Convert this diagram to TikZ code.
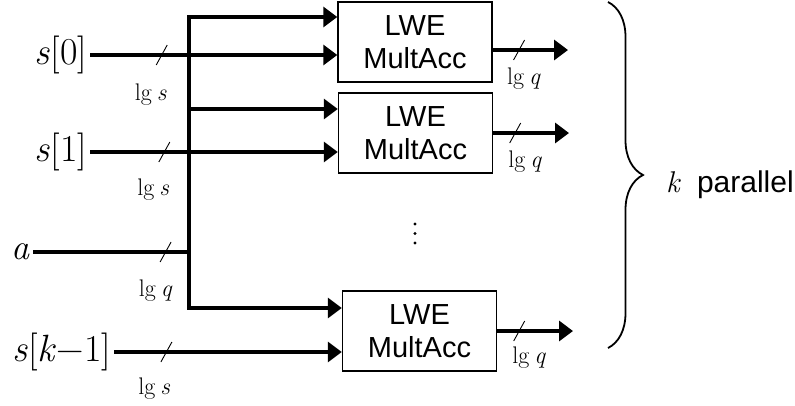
\documentclass[tikz,border=0pt]{standalone}
\usepackage{fontspec}
\setsansfont{Liberation Sans}
\usetikzlibrary{arrows.meta, positioning, calc, decorations.pathreplacing}

\newcommand{\var}[1]{\textit{#1}}

\begin{document}
\begin{tikzpicture}[x=1pt, y=-1pt,
    mac/.style={draw, line width=1.4pt, minimum width=154pt, minimum height=80pt,
      inner sep=0pt, align=center, font=\fontsize{29}{33}\selectfont\sffamily},
    wire/.style={line width=3.3pt},
    bus/.style={wire, -{Triangle[length=14pt, width=20pt]}},
    tick/.style={line width=0.9pt},
    sz/.style={font=\fontsize{24}{26}\selectfont, inner sep=0pt},
    inp/.style={font=\fontsize{38}{40}\selectfont, inner sep=0pt, outer sep=3pt, anchor=east}
  ]
  \useasboundingbox (0,0) rectangle (795,405);

  % multiply-accumulate units
  \foreach \i/\x/\y in {0/415/42, 1/415.5/133, 2/419.5/331} {
    \node[mac] (m\i) at (\x,\y) {LWE\\MultAcc};
  }
  \foreach \d in {0,1,2}
    \fill (415,224+9.5*\d) circle (1.7);

  % secret and public inputs
  \node[inp] (s0) at (90,55) {\var{s}[0]};
  \node[inp] (s1) at (90,152) {\var{s}[1]};
  \node[inp] (s2) at (114,352) {\var{s}[\var{k}−1]};
  \node[inp, font=\fontsize{36}{40}\selectfont] (a) at (33,252) {\var{a}};

  \foreach \i/\p in {0/.29, 1/.3, 2/.23} {
    \draw[bus] (s\i) -- coordinate[pos=\p] (t\i) (s\i -| m\i.west);
  }

  % shared bus for a
  \coordinate (j0) at (189,17);
  \coordinate (j1) at (189,109);
  \coordinate (j2) at (189,308);
  \coordinate (ja) at (189,252);
  \draw[wire, {Triangle[length=14pt, width=20pt]}-{Triangle[length=14pt, width=20pt]}]
    (j0 -| m0.west) -- (j0) -- (j2) -- (j2 -| m2.west);
  \draw[bus] (j1) -- (j1 -| m1.west);
  \draw[wire] (a) -- coordinate[pos=.85] (ta) (ja);

  % outputs
  \foreach \i/\x/\y/\p in {0/568/50/.35, 1/569/133/.29, 2/573/331/.29} {
    \coordinate (o\i) at (\x,\y);
    \draw[bus] (m\i.east |- o\i) -- coordinate[pos=\p] (u\i) (o\i);
  }

  % bit widths
  \foreach \t in {t0,t1,t2,ta,u0,u1,u2}
    \draw[tick] ($(\t)+(-5.5,10)$) -- ($(\t)+(5.5,-10)$);
  \foreach \t/\dx/\dy/\w in {t0/-11/40/s, t1/-11/38/s, t2/-12/37/s, ta/-10/39/q,
                             u0/5/29/q, u1/10/29/q, u2/10/27/q}
    \node[sz] (l\t) at ($(\t)+(\dx,\dy)$) {lg\hspace{5pt}\var{\w}};

  % k copies
  \coordinate (bt) at (608,2);
  \coordinate (bb) at (608,348);
  \draw[decorate, decoration={brace, amplitude=35pt}, line width=1.8pt] (bt) -- (bb);
  \node[anchor=west, inner sep=0pt, font=\fontsize{30}{36}\selectfont] (par) at (666,185)
    {\var{k}\hspace{16pt}\sffamily parallel};
\end{tikzpicture}
\end{document}
